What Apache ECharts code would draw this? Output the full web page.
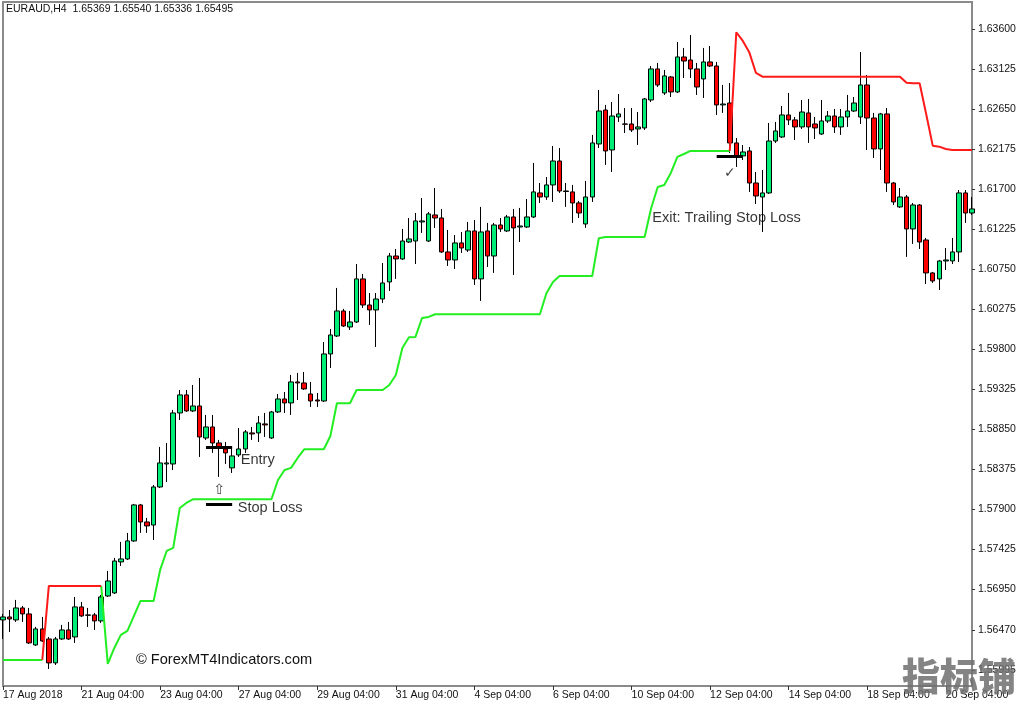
<!DOCTYPE html>
<html><head><meta charset="utf-8">
<script src="https://cdn.jsdelivr.net/npm/echarts@6/dist/echarts.min.js"></script>
<style>html,body{margin:0;padding:0;background:#fff}#c{width:1024px;height:705px}</style>
</head><body><div id="c"></div>
<script>
const opens = [1.56590,1.56625,1.56590,1.56732,1.56661,1.56293,1.56483,1.56364,1.56080,1.56364,
1.56471,1.56388,1.56744,1.56649,1.56649,1.56578,1.56874,1.56910,1.57278,1.57313,
1.57527,1.57954,1.57752,1.57716,1.58167,1.58440,1.58440,1.59045,1.59259,1.59069,
1.59128,1.58748,1.58879,1.58689,1.58618,1.58393,1.58547,1.58618,1.58808,1.58808,
1.58915,1.58748,1.59057,1.59211,1.59164,1.59413,1.59401,1.59270,1.59199,1.59187,
1.59745,1.59958,1.60255,1.60065,1.60124,1.60635,1.60326,1.60267,1.60397,1.60599,
1.60907,1.60872,1.61073,1.61085,1.61311,1.61085,1.61394,1.61358,1.60955,1.60860,
1.61062,1.60978,1.61204,1.60635,1.61204,1.60907,1.61275,1.61204,1.61370,1.61251,
1.61251,1.61370,1.61655,1.61607,1.61750,1.62034,1.61678,1.61667,1.61536,1.61287,
1.61607,1.62236,1.62639,1.62165,1.62556,1.62473,1.62473,1.62414,1.62426,1.62758,
1.63126,1.62841,1.63031,1.62853,1.63268,1.63232,1.63126,1.63007,1.63209,1.63161,
1.62699,1.62722,1.62248,1.62094,1.62153,1.61773,1.61607,1.61655,1.62271,1.62319,
1.62580,1.62521,1.62438,1.62604,1.62473,1.62354,1.62509,1.62568,1.62438,1.62556,
1.62627,1.62556,1.62936,1.62544,1.62177,1.62592,1.61773,1.61489,1.61607,1.61228,
1.61512,1.61097,1.60706,1.60635,1.60848,1.60848,1.60955,1.61655,1.61417];
const closes = [1.56625,1.56601,1.56732,1.56661,1.56317,1.56483,1.56340,1.56080,1.56364,1.56471,
1.56364,1.56744,1.56637,1.56645,1.56578,1.56862,1.57052,1.57289,1.57313,1.57527,
1.57954,1.57752,1.57705,1.58167,1.58452,1.58452,1.59045,1.59259,1.59069,1.59128,
1.58760,1.58879,1.58689,1.58642,1.58571,1.58535,1.58618,1.58820,1.58796,1.58926,
1.58903,1.59057,1.59211,1.59164,1.59413,1.59401,1.59330,1.59187,1.59187,1.59745,
1.59970,1.60255,1.60077,1.60124,1.60635,1.60326,1.60267,1.60397,1.60587,1.60907,
1.60872,1.61085,1.61109,1.61323,1.61323,1.61406,1.61358,1.60955,1.60860,1.61062,
1.61002,1.61204,1.60635,1.61192,1.60907,1.61275,1.61228,1.61370,1.61240,1.61263,
1.61370,1.61667,1.61607,1.61750,1.62034,1.61678,1.61672,1.61536,1.61417,1.61607,
1.62248,1.62627,1.62153,1.62568,1.62592,1.62470,1.62402,1.62438,1.62770,1.63126,
1.62936,1.63043,1.62853,1.63268,1.63220,1.63126,1.62912,1.63209,1.63161,1.62699,
1.62710,1.62248,1.62094,1.62141,1.61773,1.61619,1.61655,1.62271,1.62390,1.62580,
1.62521,1.62438,1.62615,1.62438,1.62426,1.62509,1.62568,1.62438,1.62556,1.62627,
1.62722,1.62936,1.62544,1.62177,1.62592,1.61773,1.61548,1.61607,1.61228,1.61512,
1.61073,1.60706,1.60611,1.60848,1.60860,1.60955,1.61655,1.61417,1.61465];
const lows = [1.56364,1.56447,1.56566,1.56566,1.56305,1.56281,1.56329,1.56008,1.56056,1.56352,
1.56352,1.56317,1.56625,1.56507,1.56471,1.56554,1.56862,1.56898,1.57230,1.57301,
1.57515,1.57622,1.57622,1.57539,1.58155,1.58226,1.58369,1.58962,1.59057,1.59057,
1.58523,1.58725,1.58571,1.58286,1.58440,1.58333,1.58523,1.58571,1.58725,1.58701,
1.58760,1.58737,1.59045,1.59045,1.59021,1.59199,1.59318,1.59116,1.59116,1.59175,
1.59579,1.59946,1.60065,1.60030,1.60112,1.60291,1.60089,1.59828,1.60350,1.60492,
1.60635,1.60860,1.61062,1.60812,1.61180,1.61073,1.61240,1.60943,1.60789,1.60753,
1.60943,1.60955,1.60563,1.60374,1.60777,1.60706,1.61192,1.61192,1.60682,1.61073,
1.61240,1.61358,1.61536,1.61572,1.61548,1.61655,1.61489,1.61299,1.61358,1.61240,
1.61548,1.62188,1.61987,1.61904,1.62497,1.62366,1.62378,1.62224,1.62402,1.62734,
1.62912,1.62817,1.62793,1.62841,1.63019,1.63019,1.62817,1.62782,1.63149,1.62580,
1.62604,1.62129,1.61963,1.62046,1.61667,1.61524,1.61192,1.61643,1.62248,1.62307,
1.62461,1.62283,1.62414,1.62248,1.62295,1.62343,1.62485,1.62366,1.62343,1.62438,
1.62615,1.62473,1.62165,1.62070,1.61927,1.61667,1.61512,1.61477,1.60896,1.61050,
1.60990,1.60575,1.60587,1.60504,1.60741,1.60812,1.60836,1.61299,1.61394];
const highs = [1.56661,1.56708,1.56827,1.56756,1.56732,1.56507,1.56625,1.56388,1.56388,1.56530,
1.56566,1.56862,1.56803,1.56732,1.56673,1.56886,1.57171,1.57325,1.57515,1.57622,
1.57966,1.57966,1.57800,1.58191,1.58642,1.58689,1.59081,1.59318,1.59318,1.59377,
1.59460,1.59021,1.59021,1.58725,1.58701,1.58642,1.58867,1.58843,1.58879,1.59009,
1.59045,1.59069,1.59270,1.59294,1.59496,1.59520,1.59531,1.59413,1.59282,1.59887,
1.60041,1.60528,1.60279,1.60255,1.60812,1.60694,1.60468,1.60468,1.60824,1.60943,
1.60990,1.61228,1.61358,1.61417,1.61595,1.61429,1.61714,1.61465,1.61216,1.61156,
1.61192,1.61311,1.61334,1.61489,1.61299,1.61299,1.61358,1.61394,1.61465,1.61477,
1.61583,1.62011,1.61773,1.61844,1.62212,1.62188,1.61773,1.61750,1.61560,1.61797,
1.62343,1.62876,1.62699,1.62734,1.62829,1.62663,1.62663,1.62615,1.62782,1.63161,
1.63197,1.63114,1.63043,1.63446,1.63375,1.63529,1.63197,1.63375,1.63398,1.63209,
1.62936,1.62959,1.62307,1.62224,1.62200,1.61904,1.61927,1.62485,1.62497,1.62687,
1.62841,1.62556,1.62758,1.62770,1.62556,1.62758,1.62627,1.62651,1.62651,1.62817,
1.62793,1.63327,1.63054,1.62604,1.62604,1.62663,1.61785,1.61714,1.61631,1.61536,
1.61524,1.61121,1.60718,1.60860,1.61002,1.61121,1.61690,1.61690,1.61607];
const trailUp = [1.56115,1.56115,1.56115,1.56115,1.56115,1.56115,1.56115,null,null,null,
null,null,null,null,null,1.56993,1.56068,1.56257,1.56412,1.56459,
1.56637,1.56815,1.56815,1.56815,1.57183,1.57408,1.57444,1.57918,1.57977,1.58021,
1.58021,1.58021,1.58021,1.58021,1.58021,1.58021,1.58021,1.58021,1.58021,1.58021,
1.58021,1.58021,1.58250,1.58369,1.58393,1.58511,1.58614,1.58614,1.58614,1.58614,
1.58772,1.59160,1.59160,1.59160,1.59318,1.59318,1.59318,1.59318,1.59318,1.59377,
1.59496,1.59816,1.59943,1.59947,1.60172,1.60184,1.60216,1.60216,1.60216,1.60216,
1.60216,1.60216,1.60216,1.60216,1.60216,1.60216,1.60216,1.60216,1.60216,1.60216,
1.60216,1.60216,1.60216,1.60465,1.60599,1.60670,1.60670,1.60670,1.60670,1.60670,
1.60670,1.61117,1.61133,1.61133,1.61133,1.61133,1.61133,1.61133,1.61133,1.61477,
1.61726,1.61750,1.61892,1.62082,1.62117,1.62153,1.62153,1.62153,1.62153,1.62153,
1.62153,1.62153,null,null,null,null,null,null,null,null,
null,null,null,null,null,null,null,null,null,null,
null,null,null,null,null,null,null,null,null,null,
null,null,null,null,null,null,null,null,null];
const trailDown = [null,null,null,null,null,null,1.56115,1.56993,1.56993,1.56993,
1.56993,1.56993,1.56993,1.56993,1.56993,1.56993,null,null,null,null,
null,null,null,null,null,null,null,null,null,null,
null,null,null,null,null,null,null,null,null,null,
null,null,null,null,null,null,null,null,null,null,
null,null,null,null,null,null,null,null,null,null,
null,null,null,null,null,null,null,null,null,null,
null,null,null,null,null,null,null,null,null,null,
null,null,null,null,null,null,null,null,null,null,
null,null,null,null,null,null,null,null,null,null,
null,null,null,null,null,null,null,null,null,null,
null,1.62153,1.63561,1.63458,1.63320,1.63078,1.63034,1.63034,1.63034,1.63034,
1.63034,1.63034,1.63034,1.63034,1.63034,1.63034,1.63034,1.63034,1.63034,1.63034,
1.63034,1.63034,1.63034,1.63034,1.63034,1.63034,1.63034,1.63034,1.62963,1.62956,
1.62956,1.62592,1.62216,1.62204,1.62177,1.62165,1.62165,1.62165,1.62165];
const xTickLabels = ['17 Aug 2018','21 Aug 04:00','23 Aug 04:00','27 Aug 04:00','29 Aug 04:00','31 Aug 04:00','4 Sep 04:00','6 Sep 04:00','10 Sep 04:00','12 Sep 04:00','14 Sep 04:00','18 Sep 04:00','20 Sep 04:00'];
const barsPerTick = 12;
const yTickValues = [1.55995,1.56470,1.56950,1.57425,1.57900,1.58375,1.58850,1.59325,1.59800,1.60275,1.60750,1.61225,1.61700,1.62175,1.62650,1.63125,1.63600];
const yMin = 1.55806, yMax = 1.63920;
const levelLines = [
  {from: 31, to: 35, price: 1.58638},
  {from: 31, to: 35, price: 1.57962},
  {from: 109, to: 113, price: 1.62094}
];
const noteBars = [36, 36, 99];
const notePrices = [1.58487, 1.57918, 1.61358];
const noteTexts = ['Entry', 'Stop Loss', 'Exit: Trailing Stop Loss'];
const noteGaps = [2, -1, 1];
const iconBars = [33, 111];
const iconPrices = [1.58132, 1.61892];
const iconTexts = ['\u21E7', '\u2713'];
const titleText = 'EURAUD,H4  1.65369 1.65540 1.65336 1.65495';
const copyrightText = '\u00A9 ForexMT4Indicators.com';
const watermarkText = '指标铺';

const categories = opens.map((_, i) => String(i));
const candles = opens.map((o, i) => [o, closes[i], lows[i], highs[i]]);
const FONT = 'Liberation Sans, Arial, sans-serif';

const chart = echarts.init(document.getElementById('c'), null, {renderer: 'canvas'});
chart.setOption({
  animation: false,
  backgroundColor: '#ffffff',
  grid: {left: 2, right: 52, top: 2, bottom: 19, show: true, borderColor: '#8a8a8a', borderWidth: 2, backgroundColor: '#ffffff'},
  xAxis: {
    type: 'category', data: categories, boundaryGap: false,
    axisLine: {show: true, lineStyle: {color: '#8a8a8a', width: 2}},
    axisTick: {show: true, interval: barsPerTick - 1, length: 4, lineStyle: {color: '#333'}},
    axisLabel: {interval: barsPerTick - 1, align: 'left', margin: 4, fontSize: 10.5, fontFamily: FONT, color: '#111',
      formatter: (v, idx) => (idx % barsPerTick === 0 && xTickLabels[idx / barsPerTick]) ? xTickLabels[idx / barsPerTick] : ''},
    splitLine: {show: false}
  },
  yAxis: {
    type: 'value', position: 'right', min: yMin, max: yMax, scale: true,
    axisLine: {show: true, lineStyle: {color: '#8a8a8a', width: 2}},
    axisTick: {show: true, customValues: yTickValues, length: 3, lineStyle: {color: '#333'}},
    axisLabel: {customValues: yTickValues, formatter: v => v.toFixed(5), margin: 6, fontSize: 10.5, fontFamily: FONT, color: '#111'},
    splitLine: {show: false}
  },
  graphic: [
    {type: 'text', left: 6, top: 4, style: {text: titleText, font: '10.5px ' + FONT, fill: '#111'}},
    {type: 'text', left: 136, top: 652, style: {text: copyrightText, font: '14.6px ' + FONT, fill: '#111'}},
    {type: 'text', left: 902, top: 657, z: 100, style: {text: watermarkText, font: '900 38px "Noto Sans CJK SC"', fill: 'rgba(110,110,110,0.85)'}}
  ],
  series: [
    {
      type: 'candlestick', name: 'EURAUD', data: candles, barWidth: 5, clip: true,
      itemStyle: {color: '#00ee77', color0: '#ff0000', borderColor: '#000', borderColor0: '#000', borderWidth: 1},
      markLine: {
        silent: true, symbol: ['none', 'none'], label: {show: false},
        lineStyle: {color: '#000', width: 3, type: 'solid'},
        data: levelLines.map(l => [{coord: [l.from, l.price]}, {coord: [l.to, l.price]}])
      }
    },
    {type: 'line', name: 'up', data: trailUp, symbol: 'none', connectNulls: false, lineStyle: {color: '#22ee22', width: 2}, z: 3},
    {type: 'line', name: 'down', data: trailDown, symbol: 'none', connectNulls: false, lineStyle: {color: '#ff1a1a', width: 2}, z: 3},
    {type: 'scatter', symbolSize: 0, z: 5,
      data: noteBars.map((b, i) => ({value: [b, notePrices[i]], name: noteTexts[i], label: {distance: noteGaps[i]}})),
      label: {show: true, position: 'right', formatter: p => p.name, fontSize: 14.6, fontFamily: FONT, color: '#000'}},
    {type: 'scatter', symbolSize: 0, z: 5,
      data: iconBars.map((b, i) => ({value: [b, iconPrices[i]], name: iconTexts[i]})),
      label: {show: true, position: 'inside', formatter: p => p.name, fontSize: 14, fontFamily: 'DejaVu Sans', color: '#111'}}
  ]
});
</script></body></html>
